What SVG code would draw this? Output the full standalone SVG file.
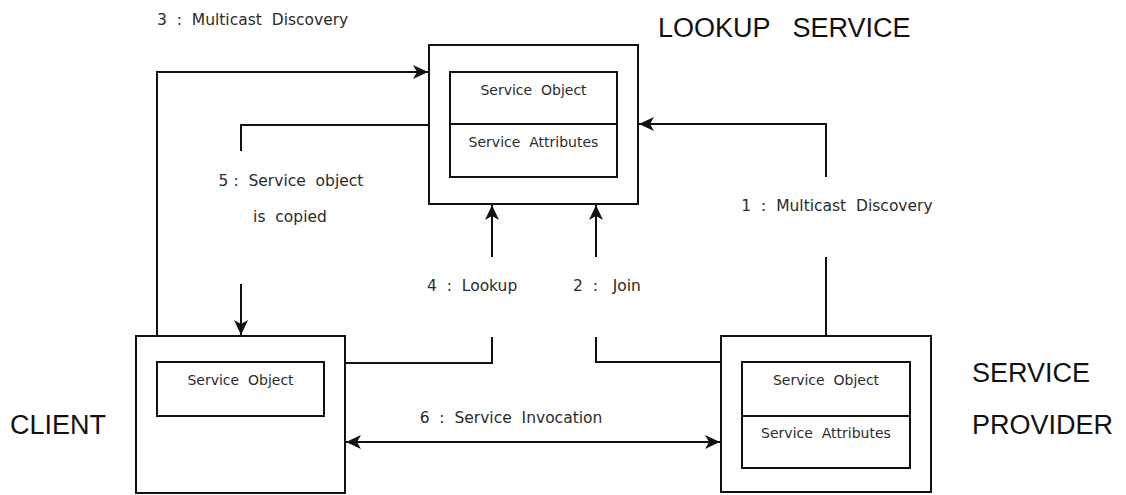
<svg xmlns="http://www.w3.org/2000/svg" width="1126" height="495" viewBox="0 0 1126 495">
  <style>
    .box { fill: #ffffff; stroke: #111111; stroke-width: 2; }
    .inner { fill: none; stroke: #111111; stroke-width: 2; }
    .conn { fill: none; stroke: #111111; stroke-width: 2; }
    .lbl { font-family: "DejaVu Sans", "Liberation Sans", sans-serif; font-size: 15.5px; fill: #2b2b2b; white-space: pre; }
    .cell { font-family: "DejaVu Sans", "Liberation Sans", sans-serif; font-size: 14px; fill: #2b2b2b; white-space: pre; text-anchor: middle; }
    .title { font-family: "Liberation Sans", Arial, sans-serif; font-size: 27px; fill: #111111; white-space: pre; }
  </style>
  <defs>
    <marker id="arrow" viewBox="0 0 16 14" markerWidth="16" markerHeight="14" refX="15" refY="7" orient="auto-start-reverse" markerUnits="userSpaceOnUse">
      <path d="M0,0 L15,7 L0,14 L4,7 z" fill="#111111"/>
    </marker>
  </defs>

  <rect width="1126" height="495" fill="#ffffff"/>

  <!-- Lookup service -->
  <g id="lookup-service">
    <rect class="box" x="429" y="45" width="209" height="159"/>
    <rect class="inner" x="450" y="72" width="167" height="105"/>
    <line class="inner" x1="450" y1="124" x2="617" y2="124"/>
    <text class="cell" x="533.5" y="95">Service  Object</text>
    <text class="cell" x="533.5" y="147">Service  Attributes</text>
  </g>

  <!-- Client -->
  <g id="client">
    <rect class="box" x="136" y="336" width="209" height="157"/>
    <rect class="inner" x="157" y="362" width="167" height="54"/>
    <text class="cell" x="240.5" y="385">Service  Object</text>
  </g>

  <!-- Service provider -->
  <g id="service-provider">
    <rect class="box" x="721" y="336" width="210" height="156"/>
    <rect class="inner" x="742" y="362" width="168" height="106"/>
    <line class="inner" x1="742" y1="416" x2="910" y2="416"/>
    <text class="cell" x="826" y="385">Service  Object</text>
    <text class="cell" x="826" y="438">Service  Attributes</text>
  </g>

  <!-- Connectors -->
  <g id="connectors">
    <!-- 3: multicast discovery from client -->
    <path class="conn" d="M157,336 V72 H428" marker-end="url(#arrow)"/>
    <!-- 5: service object copied to client -->
    <path class="conn" d="M429,125 H241 V151"/>
    <path class="conn" d="M241,284 V335" marker-end="url(#arrow)"/>
    <!-- 4: lookup -->
    <path class="conn" d="M345,363 H492 V337"/>
    <path class="conn" d="M492,257 V205" marker-end="url(#arrow)"/>
    <!-- 2: join -->
    <path class="conn" d="M721,362 H596 V337"/>
    <path class="conn" d="M596,257 V205" marker-end="url(#arrow)"/>
    <!-- 1: multicast discovery from provider -->
    <path class="conn" d="M826,336 V257"/>
    <path class="conn" d="M826,177 V124 H639" marker-end="url(#arrow)"/>
    <!-- 6: service invocation -->
    <path class="conn" d="M346,442 H720" marker-start="url(#arrow)" marker-end="url(#arrow)"/>
  </g>

  <!-- Labels -->
  <g id="labels">
    <text class="lbl" x="157" y="25">3  :  Multicast  Discovery</text>
    <text class="lbl" x="291" y="186" text-anchor="middle">5 :  Service  object</text>
    <text class="lbl" x="290" y="222" text-anchor="middle">is  copied</text>
    <text class="lbl" x="427" y="291">4  :  Lookup</text>
    <text class="lbl" x="573" y="291">2  :   Join</text>
    <text class="lbl" x="837" y="211" text-anchor="middle">1  :  Multicast  Discovery</text>
    <text class="lbl" x="511" y="423" text-anchor="middle">6  :  Service  Invocation</text>
    <text class="title" x="658" y="37">LOOKUP   SERVICE</text>
    <text class="title" x="10" y="434">CLIENT</text>
    <text class="title" x="972" y="382">SERVICE</text>
    <text class="title" x="972" y="434">PROVIDER</text>
  </g>
</svg>
